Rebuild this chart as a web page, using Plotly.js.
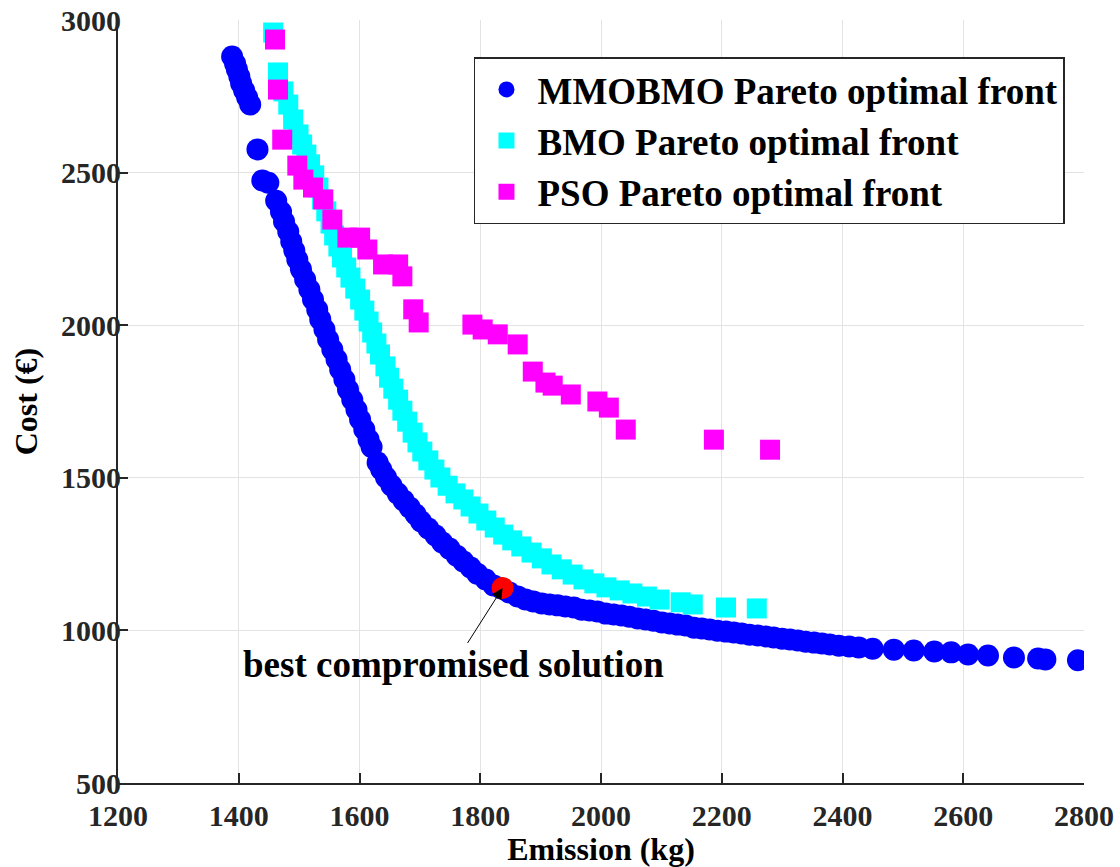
<!DOCTYPE html>
<html>
<head>
<meta charset="utf-8">
<script src="https://cdn.plot.ly/plotly-3.0.1.min.js"></script>
<style>html,body{margin:0;padding:0;background:#fff;}#chart{width:1120px;height:867px;}</style>
</head>
<body>
<div id="chart"></div>
<script>
// MMOBMO Pareto optimal front
const mmobmoEmission = [1389,1394,1397,1401,1404,1409,1414,1419,1431,1439,1449,1462,1470,1475,1482,1487,1492,1497,1503,1510,1517,1523,1530,1535,1542,1548,1555,1562,1568,1575,1581,1588,1595,1601,1608,1615,1620,1630,1636,1644,1653,1663,1673,1683,1693,1702,1714,1726,1737,1749,1761,1772,1784,1795,1809,1822,1835,1848,1862,1875,1888,1902,1915,1928,1941,1955,1968,1981,1994,2008,2021,2034,2047,2061,2074,2087,2101,2114,2127,2140,2154,2167,2180,2193,2207,2220,2233,2246,2260,2273,2286,2300,2313,2326,2339,2353,2366,2379,2394,2411,2427,2450,2485,2518,2552,2580,2608,2641,2684,2724,2736,2790];
const mmobmoCost = [2880,2857,2838,2815,2792,2769,2746,2723,2576,2474,2467,2408,2372,2340,2307,2274,2245,2215,2183,2150,2117,2084,2051,2019,1986,1953,1920,1888,1855,1822,1789,1756,1723,1691,1658,1625,1601,1550,1527,1501,1475,1449,1426,1403,1380,1357,1334,1311,1288,1268,1245,1226,1206,1186,1167,1147,1137,1124,1111,1101,1095,1088,1085,1082,1078,1075,1068,1065,1062,1055,1052,1049,1045,1039,1036,1032,1026,1023,1019,1016,1009,1006,1003,999,996,993,990,986,983,980,977,973,970,967,963,960,957,954,950,947,944,940,937,934,931,928,921,918,911,908,905,902];

// BMO Pareto optimal front
const bmoEmission = [1457,1465,1474,1482,1490,1499,1505,1512,1518,1525,1532,1538,1545,1552,1558,1565,1571,1578,1585,1593,1601,1608,1615,1621,1628,1634,1643,1649,1656,1664,1671,1679,1688,1696,1704,1714,1724,1734,1746,1759,1772,1784,1797,1810,1824,1838,1853,1868,1885,1902,1918,1935,1953,1971,1989,2009,2031,2052,2076,2097,2132,2152,2207,2258];
const bmoCost = [2959,2828,2766,2723,2674,2625,2592,2559,2527,2491,2451,2412,2373,2333,2294,2258,2222,2189,2156,2120,2084,2048,2012,1976,1940,1904,1865,1828,1792,1756,1720,1684,1648,1616,1586,1557,1527,1501,1474,1449,1429,1406,1383,1360,1337,1314,1295,1275,1255,1236,1216,1200,1183,1167,1154,1141,1131,1121,1111,1101,1092,1085,1075,1072];

// PSO Pareto optimal front
const psoEmission = [1460,1465,1472,1497,1507,1523,1540,1555,1580,1601,1613,1639,1664,1671,1689,1698,1787,1804,1829,1862,1887,1908,1920,1950,1994,2013,2041,2187,2280];
const psoCost = [2936,2772,2608,2523,2477,2451,2412,2346,2287,2287,2248,2199,2199,2160,2052,2009,2002,1986,1970,1937,1848,1812,1802,1773,1750,1730,1658,1625,1592];

// Best compromised solution
const bestEmission = [1837];
const bestCost = [1139];

const seriesNames = ['MMOBMO Pareto optimal front','BMO Pareto optimal front','PSO Pareto optimal front'];
const xTicks = [1200,1400,1600,1800,2000,2200,2400,2600,2800];
const yTicks = [500,1000,1500,2000,2500,3000];

const serif = 'Liberation Serif, Times New Roman, serif';
const axisColor = '#262626';

const traces = [
  {x: mmobmoEmission, y: mmobmoCost, type: 'scatter', mode: 'markers', name: seriesNames[0],
   marker: {symbol: 'circle', size: 22, color: '#0000ff'}},
  {x: bmoEmission, y: bmoCost, type: 'scatter', mode: 'markers', name: seriesNames[1],
   marker: {symbol: 'square', size: 20, color: '#00ffff'}},
  {x: psoEmission, y: psoCost, type: 'scatter', mode: 'markers', name: seriesNames[2],
   marker: {symbol: 'square', size: 20, color: '#ff00ff'}},
  {x: bestEmission, y: bestCost, type: 'scatter', mode: 'markers', showlegend: false,
   marker: {symbol: 'circle', size: 22, color: '#ff0000'}}
];

const layout = {
  width: 1120, height: 867,
  paper_bgcolor: '#ffffff', plot_bgcolor: '#ffffff',
  margin: {l: 118, r: 36, t: 20, b: 84},
  showlegend: true,
  xaxis: {
    range: [1200, 2800], tickvals: xTicks, ticktext: xTicks.map(String),
    showgrid: true, gridcolor: '#e3e3e3', gridwidth: 1, zeroline: false,
    showline: true, linecolor: axisColor, linewidth: 2, mirror: false,
    ticks: 'inside', ticklen: 10, tickwidth: 2, tickcolor: axisColor,
    tickfont: {family: serif, size: 30, color: axisColor, weight: 'bold'},
    ticklabelstandoff: 5,
    title: {text: 'Emission (kg)', font: {family: serif, size: 32, color: '#000', weight: 'bold'}, standoff: 12},
    automargin: false
  },
  yaxis: {
    range: [500, 3000], tickvals: yTicks, ticktext: yTicks.map(String),
    showgrid: true, gridcolor: '#e3e3e3', gridwidth: 1, zeroline: false,
    showline: true, linecolor: axisColor, linewidth: 2, mirror: false,
    ticks: 'inside', ticklen: 10, tickwidth: 2, tickcolor: axisColor,
    tickfont: {family: serif, size: 30, color: axisColor, weight: 'bold'},
    ticklabelstandoff: -11,
    title: {text: 'Cost (€)', font: {family: serif, size: 32, color: '#000', weight: 'bold'}, standoff: 14},
    automargin: false
  },
  legend: {
    x: 0.3685, y: 0.951, xanchor: 'left', yanchor: 'top',
    bgcolor: '#ffffff', bordercolor: axisColor, borderwidth: 1.5,
    font: {family: serif, size: 37, color: '#000', weight: 'bold'},
    itemsizing: 'trace', itemwidth: 52
  },
  annotations: [{
    x: bestEmission[0], y: bestCost[0], xref: 'x', yref: 'y',
    text: 'best compromised solution',
    showarrow: true, arrowhead: 2, arrowsize: 2.2, arrowwidth: 1, arrowcolor: '#000',
    ax: -49, ay: 77, standoff: 0,
    font: {family: serif, size: 37, color: '#000', weight: 'bold'}
  }]
};

Plotly.newPlot('chart', traces, layout, {displayModeBar: false, staticPlot: true});
</script>
</body>
</html>
